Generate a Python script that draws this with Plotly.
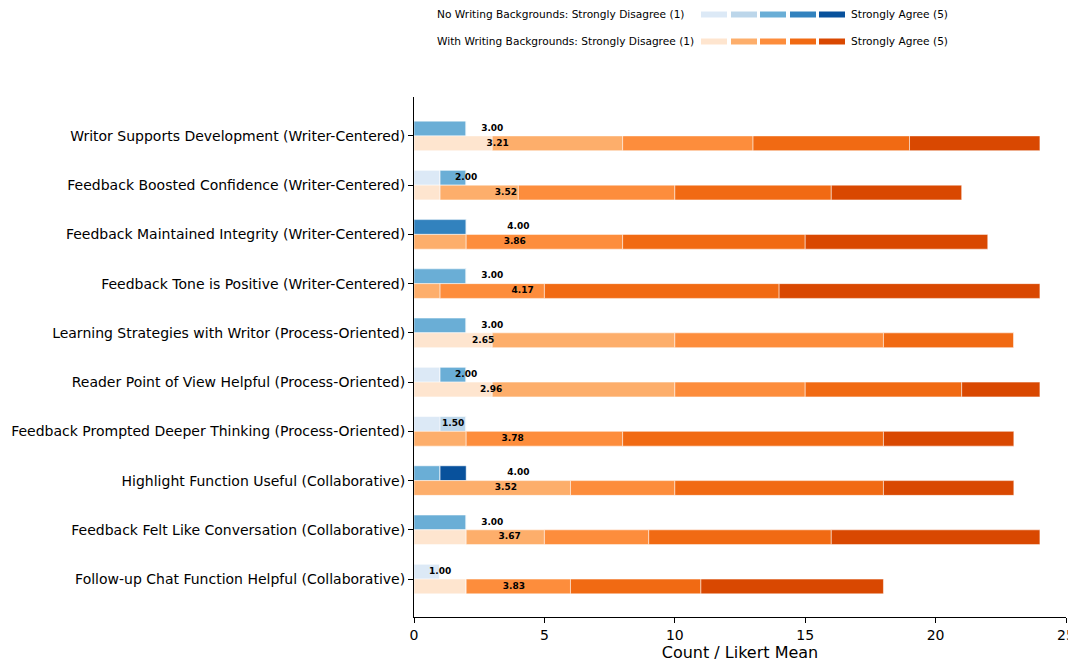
import numpy as np
import plotly.graph_objects as go

categories = [
    "Writor Supports Development (Writer-Centered)",
    "Feedback Boosted Confidence (Writer-Centered)",
    "Feedback Maintained Integrity (Writer-Centered)",
    "Feedback Tone is Positive (Writer-Centered)",
    "Learning Strategies with Writor (Process-Oriented)",
    "Reader Point of View Helpful (Process-Oriented)",
    "Feedback Prompted Deeper Thinking (Process-Oriented)",
    "Highlight Function Useful (Collaborative)",
    "Feedback Felt Like Conversation (Collaborative)",
    "Follow-up Chat Function Helpful (Collaborative)",
]

# counts for Likert levels 1..5 (rows = categories)
no_bg_counts = [
    [0, 0, 2, 0, 0],
    [1, 0, 1, 0, 0],
    [0, 0, 0, 2, 0],
    [0, 0, 2, 0, 0],
    [0, 0, 2, 0, 0],
    [1, 0, 1, 0, 0],
    [1, 1, 0, 0, 0],
    [0, 0, 1, 0, 1],
    [0, 0, 2, 0, 0],
    [1, 0, 0, 0, 0],
]
with_bg_counts = [
    [3, 5, 5, 6, 5],
    [1, 3, 6, 6, 5],
    [0, 2, 6, 7, 7],
    [0, 1, 4, 9, 10],
    [3, 7, 8, 5, 0],
    [3, 7, 5, 6, 3],
    [0, 2, 6, 10, 5],
    [0, 6, 4, 8, 5],
    [2, 3, 4, 7, 8],
    [2, 0, 4, 5, 7],
]
levels = [1, 2, 3, 4, 5]
x_ticks = [0, 5, 10, 15, 20, 25]

blues = ["#dce9f6", "#bcd6ea", "#6aaed6", "#3282be", "#08519c"]
oranges = ["#fee5cf", "#fdae6b", "#fd8d3c", "#f16a13", "#d94801"]

FONT = "DejaVu Sans"
W, H = 1068, 662
ML, MR, MT, MB = 414, 2, 97, 45
PW, PH = W - ML - MR, H - MT - MB


def px(x):
    return (x - ML) / PW


def py(y):
    return 1 + (MT - y) / PH


fig = go.Figure()
n = len(categories)
ypos = np.arange(n)
bar_h = 0.3

for counts, colors, off in [(no_bg_counts, blues, -0.15), (with_bg_counts, oranges, 0.15)]:
    arr = np.array(counts, dtype=float)
    base = np.zeros(n)
    for k in range(5):
        fig.add_trace(go.Bar(
            y=ypos + off, x=arr[:, k], base=base.copy(), orientation="h",
            width=bar_h, marker=dict(color=colors[k], line=dict(color="white", width=0.5)),
            showlegend=False, hoverinfo="skip",
        ))
        base = base + arr[:, k]
    tot = arr.sum(axis=1)
    means = (arr * np.array(levels)).sum(axis=1) / tot
    fig.add_trace(go.Scatter(
        x=means, y=ypos + off, mode="text",
        text=["%.2f" % m for m in means],
        textposition="middle center",
        textfont=dict(family=FONT, size=9, color="black", weight="bold"),
        showlegend=False, hoverinfo="skip",
    ))

fig.update_layout(
    barmode="overlay",
    width=W, height=H,
    margin=dict(l=ML, r=MR, t=MT, b=MB, autoexpand=False),
    plot_bgcolor="white", paper_bgcolor="white",
    font=dict(family=FONT, color="black"),
)
fig.update_xaxes(
    range=[0, 25], tickvals=x_ticks, ticktext=[str(t) for t in x_ticks],
    showgrid=False, zeroline=False, showline=True, linecolor="black", linewidth=1,
    ticks="outside", ticklen=5, tickcolor="black", tickfont=dict(size=14, family=FONT),
    ticklabeloverflow="allow",
    title=dict(text="Count / Likert Mean", font=dict(size=16, family=FONT), standoff=4),
)
fig.update_yaxes(
    range=[9.77, -0.79], tickvals=list(ypos), ticktext=categories,
    showgrid=False, zeroline=False, showline=True, linecolor="black", linewidth=1,
    ticks="outside", ticklen=5, tickcolor="black", tickfont=dict(size=14, family=FONT),
)

# custom legend
rows = [("No Writing Backgrounds: Strongly Disagree (1)", blues, 14.5),
        ("With Writing Backgrounds: Strongly Disagree (1)", oranges, 41.5)]
sw_x = [701, 731, 760, 790, 819]
for label, cols, yc in rows:
    fig.add_annotation(x=px(435), y=py(yc), xref="paper", yref="paper", text=label,
                       showarrow=False, xanchor="left", yanchor="middle",
                       font=dict(family=FONT, size=10.6, color="black"))
    for sx, c in zip(sw_x, cols):
        fig.add_shape(type="rect", xref="paper", yref="paper",
                      x0=px(sx), x1=px(sx + 26), y0=py(yc - 3), y1=py(yc + 3),
                      fillcolor=c, line=dict(width=0))
    fig.add_annotation(x=px(849), y=py(yc), xref="paper", yref="paper", text="Strongly Agree (5)",
                       showarrow=False, xanchor="left", yanchor="middle",
                       font=dict(family=FONT, size=10.6, color="black"))

fig.write_html("out.html", config={"displayModeBar": False},
               post_script="document.body.style.margin='0';document.body.style.overflow='hidden';")
